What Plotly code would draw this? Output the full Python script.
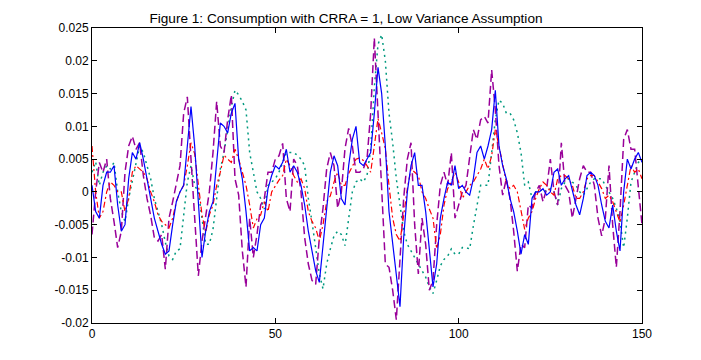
import plotly.graph_objects as go

t = list(range(151))

blue = [0.001, -0.003, -0.004, 0.001, 0.003, 0.003, 0.004, -0.002, -0.006, -0.005,
        0.002, 0.006, 0.005, 0.0075, 0.005, 0.002, -0.001, -0.004, -0.006, -0.008,
        -0.0095, -0.009, -0.005, -0.0015, 0.0, 0.001, 0.007, 0.013, 0.007, -0.001,
        -0.010, -0.006, -0.003, -0.0015, 0.005, 0.0105, 0.010, 0.009, 0.012, 0.0135,
        0.005, 0.002, -0.003, -0.009, -0.0085, -0.009, -0.005, -0.004, 0.0005, 0.0025,
        0.004, 0.0035, 0.0045, 0.0065, 0.003, 0.004, 0.003, 0.001, -0.002, -0.006,
        -0.009, -0.012, -0.0138, -0.008, -0.002, 0.003, 0.0055, 0.004, -0.001, -0.002,
        0.004, 0.008, 0.010, 0.0045, 0.004, 0.005, 0.006, 0.012, 0.019, 0.015,
        0.007, -0.003, -0.008, -0.012, -0.0175, -0.007, 0.0, 0.004, 0.006, 0.001,
        0.001, -0.003, -0.009, -0.0145, -0.011, -0.004, -0.001, 0.0015, 0.001, 0.004,
        0.0005, 0.001, 0.0, -0.0005, 0.002, 0.006, 0.007, 0.005, 0.007, 0.0095,
        0.0155, 0.007, 0.004, 0.002, -0.001, -0.003, -0.006, -0.0095, -0.0065, -0.008,
        -0.001, 0.0, 0.0, 0.0005, -0.0005, 0.0, 0.003, 0.0035, 0.001, 0.002,
        0.0025, 0.0, -0.002, -0.0035, -0.001, 0.0025, 0.003, 0.0025, 0.001, -0.002,
        -0.0045, -0.0055, -0.002, -0.006, -0.009, 0.0, 0.005, 0.0035, 0.005, 0.006,
        0.0045]

red = [0.007, 0.0, -0.004, -0.003, 0.0, 0.0015, 0.001, 0.0, 0.0, -0.003,
       -0.001, 0.003, 0.004, 0.0035, 0.003, 0.002, 0.0, -0.0015, -0.0035, -0.0045,
       -0.005, -0.0055, -0.004, -0.0015, 0.0, 0.001, 0.004, 0.0075, 0.0058, 0.001,
       -0.0035, -0.0062, -0.0035, -0.002, 0.001, 0.003, 0.0056, 0.005, 0.0045, 0.0065,
       0.005, 0.003, 0.001, -0.002, -0.0055, -0.0041, -0.0035, -0.0015, -0.003, 0.0,
       0.001, 0.0018, 0.0025, 0.005, 0.004, 0.0025, 0.0015, 0.002, 0.0005, -0.003,
       -0.0045, -0.0055, -0.0075, -0.005, -0.0015, -0.0006, 0.0015, 0.003, 0.001, 0.001,
       0.0028, 0.0038, 0.005, 0.0052, 0.0048, 0.004, 0.003, 0.007, 0.0112, 0.009,
       0.0066, 0.001, -0.004, -0.0065, -0.0075, -0.0036, 0.0005, 0.0035, 0.003, 0.0025,
       0.0, -0.001, -0.0026, -0.004, -0.0087, -0.0065, -0.002, 0.0005, 0.0015, 0.003,
       0.0015, -0.001, 0.0, 0.001, 0.0015, 0.0025, 0.0035, 0.005, 0.0035, 0.0055,
       0.0095, 0.007, 0.004, 0.0015, 0.0005, 0.001, 0.0, -0.003, -0.0057, -0.004,
       -0.003, -0.001, 0.0005, 0.0015, 0.001, 0.0, -0.0005, 0.002, 0.0025, 0.0025,
       0.002, 0.001, -0.001, -0.001, 0.0, 0.002, 0.0025, 0.0025, 0.0015, 0.0005,
       -0.001, -0.0005, -0.0015, -0.003, -0.0046, -0.002, 0.001, 0.004, 0.003, 0.0035,
       0.002]

purple = [-0.0065, 0.0, 0.0045, 0.003, 0.005, -0.001, -0.0045, -0.0085, -0.006, 0.003,
          0.007, 0.0085, 0.0065, 0.0075, 0.0025, -0.001, -0.0036, -0.007, -0.0075, -0.0065,
          -0.0118, -0.004, -0.0015, 0.0015, 0.004, 0.012, 0.0145, 0.005, -0.004, -0.0128,
          -0.0075, -0.004, 0.0, 0.006, 0.0138, 0.007, 0.006, 0.011, 0.0148, 0.002,
          -0.0005, -0.009, -0.0145, -0.004, -0.010, -0.0065, -0.002, -0.001, 0.003, 0.003,
          0.005, 0.0055, 0.0074, -0.001, -0.003, 0.005, 0.004, 0.0, -0.007, -0.011,
          -0.0135, -0.0141, -0.007, -0.0025, 0.0035, 0.006, 0.004, -0.0025, 0.0, 0.0066,
          0.0097, 0.007, 0.003, 0.003, 0.0035, 0.005, 0.012, 0.0235, 0.012, 0.002,
          -0.011, -0.0115, -0.015, -0.0195, -0.011, -0.001, 0.005, 0.0075, -0.005, -0.0125,
          -0.004, -0.008, -0.015, -0.0135, -0.005, 0.001, 0.003, 0.001, 0.006, -0.004,
          -0.002, 0.0, 0.001, 0.005, 0.0095, 0.008, 0.011, 0.0115, 0.0105, 0.0186,
          0.0125, 0.004, -0.0005, 0.002, -0.001, -0.006, -0.0121, -0.008, -0.0085, -0.002,
          -0.0025, 0.0, 0.001, -0.0015, 0.0005, 0.005, 0.0, -0.002, 0.0075, 0.001,
          0.0, -0.004, -0.001, 0.002, 0.004, 0.003, 0.003, 0.001, -0.004, -0.0067,
          -0.004, 0.004, -0.005, -0.0115, -0.003, 0.008, 0.0095, 0.0065, 0.0065, 0.001,
          -0.005]

teal = [0.003, 0.0046, 0.001, 0.003, 0.004, 0.0035, 0.0045, 0.0, -0.003, -0.0045,
        -0.001, 0.0015, 0.004, 0.007, 0.006, 0.004, 0.002, -0.001, -0.003, -0.005,
        -0.0077, -0.0098, -0.0103, -0.009, -0.0087, -0.004, 0.0015, 0.004, 0.001, 0.0,
        -0.004, -0.008, -0.008, -0.0057, -0.001, 0.0035, 0.006, 0.0095, 0.013, 0.0155,
        0.0148, 0.0138, 0.0125, 0.006, 0.003, 0.0, -0.001, -0.0026, 0.001, 0.0015,
        0.002, 0.003, 0.0045, 0.006, 0.006, 0.006, 0.0056, 0.005, 0.004, -0.001,
        -0.0046, -0.0087, -0.0125, -0.0148, -0.011, -0.0087, -0.0067, -0.006, -0.0065, -0.0082,
        -0.004, 0.0, 0.0015, 0.002, 0.0015, 0.0025, 0.0065, 0.016, 0.0225, 0.024,
        0.020, 0.012, 0.0075, 0.002, -0.002, -0.006, -0.008, -0.009, -0.010, -0.011,
        -0.012, -0.013, -0.0145, -0.0155, -0.0135, -0.0113, -0.0103, -0.0098, -0.0087, -0.0095,
        -0.0095, -0.0085, -0.0085, -0.0087, -0.0052, -0.002, 0.001, 0.001, 0.001, 0.006,
        0.011, 0.014, 0.0135, 0.012, 0.012, 0.011, 0.009, 0.006, 0.001, 0.0015,
        -0.001, 0.0, 0.0, 0.0005, 0.0, 0.0005, 0.0, -0.002, 0.0005, 0.0015,
        0.002, 0.0015, 0.001, 0.0, -0.0005, 0.0005, 0.0015, 0.002, 0.002, 0.002,
        0.001, 0.0, -0.001, -0.0025, -0.0045, -0.0085, -0.004, 0.0015, 0.003, 0.0045,
        0.005]

y_tick_vals = [0.025, 0.02, 0.015, 0.01, 0.005, 0, -0.005, -0.01, -0.015, -0.02]
y_tick_text = ["0.025", "0.02", "0.015", "0.01", "0.005", "0", "-0.005", "-0.01", "-0.015", "-0.02"]
x_tick_vals = [0, 50, 100, 150]
x_tick_text = ["0", "50", "100", "150"]

title_text = "Figure 1: Consumption with CRRA = 1, Low Variance Assumption"

fig = go.Figure()
fig.add_trace(go.Scatter(x=t, y=teal, mode="lines",
                         line=dict(color="#00997f", width=1.5, dash="2px,4px")))
fig.add_trace(go.Scatter(x=t, y=purple, mode="lines",
                         line=dict(color="#990099", width=1.5, dash="8px,4px")))
fig.add_trace(go.Scatter(x=t, y=red, mode="lines",
                         line=dict(color="#ff0000", width=1.2, dash="6px,3px,2px,3px")))
fig.add_trace(go.Scatter(x=t, y=blue, mode="lines",
                         line=dict(color="#0000ff", width=1.2)))

axis_font = dict(family="Liberation Sans, Arial, sans-serif", size=12, color="black")

fig.update_layout(
    width=701, height=360,
    margin=dict(l=84, r=67, t=20, b=45),
    paper_bgcolor="white", plot_bgcolor="white",
    showlegend=False,
    title=dict(text=title_text, x=338 / 701, xanchor="center", y=1 - 10 / 360, yanchor="middle",
               font=dict(family="Liberation Sans, Arial, sans-serif", size=13.6, color="black")),
    xaxis=dict(range=[0, 150], tickvals=x_tick_vals, ticktext=x_tick_text,
               showgrid=False, zeroline=False, showline=True, linecolor="black", linewidth=1,
               mirror="ticks", ticks="inside", ticklen=5, tickcolor="black",
               tickfont=axis_font),
    yaxis=dict(range=[-0.02, 0.025], tickvals=y_tick_vals, ticktext=y_tick_text,
               showgrid=False, zeroline=False, showline=True, linecolor="black", linewidth=1,
               mirror="ticks", ticks="inside", ticklen=5, tickcolor="black",
               tickfont=axis_font),
)

fig.write_html("out.html")
